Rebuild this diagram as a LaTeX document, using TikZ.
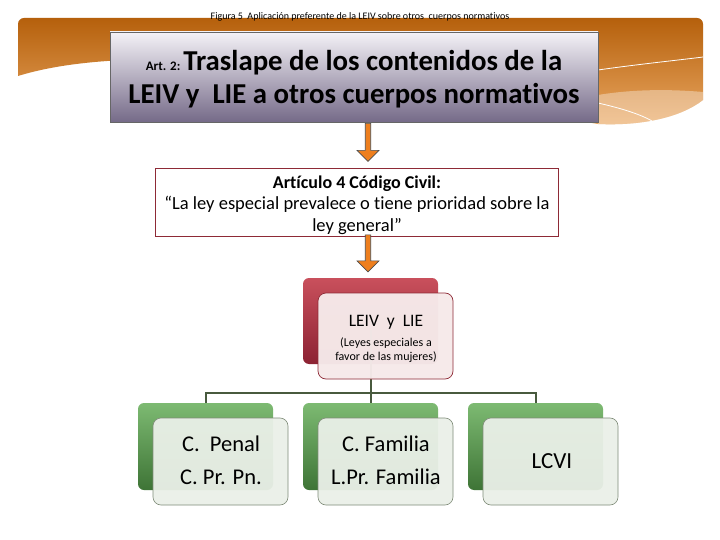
\documentclass[tikz,border=0pt]{standalone}
\usepackage{fontspec}
\setmainfont{Carlito}[Ligatures=NoCommon]
\usetikzlibrary{arrows.meta,shapes.arrows}
\definecolor{orA}{HTML}{B5600C}
\definecolor{orB}{HTML}{EBA862}
\definecolor{arrOr}{HTML}{EE7F1E}
\definecolor{redBack1}{HTML}{C9505C}
\definecolor{redBack2}{HTML}{8C2233}
\definecolor{redLine}{HTML}{8E2A36}
\definecolor{grnBack1}{HTML}{7DBA72}
\definecolor{grnBack2}{HTML}{3E7436}
\definecolor{grnLine}{HTML}{485A3E}
\definecolor{frontGrn}{HTML}{EAF0E8}
\definecolor{frontRed}{HTML}{F6EAEA}
\definecolor{boxTop}{HTML}{F4F2F7}
\definecolor{boxBot}{HTML}{756A88}
\tikzset{
  blockarrow/.style={single arrow, draw=black!70, line width=0.6pt, fill=arrOr,
    shape border rotate=270, minimum width=22pt, single arrow head extend=5.5pt,
    single arrow tip angle=90, inner sep=0pt, minimum height=38pt, text width=3pt},
  backgrn/.style={rounded corners=6pt, top color=grnBack1, bottom color=grnBack2, draw=none},
  frontgrn/.style={rounded corners=8pt, fill=frontGrn, fill opacity=0.95, draw=grnLine!70, line width=0.6pt},
  conn/.style={draw=grnLine, line width=2pt}
}
\begin{document}
\begin{tikzpicture}[x=1pt,y=-1pt]
\useasboundingbox (0,0) rectangle (720,540);
\fill[white] (0,0) rectangle (720,540);
% orange band
\shade[top color=orA, bottom color=orB]
  (18,76) -- (18,26) [rounded corners=6pt] -- (18,18) -- (703,18) [sharp corners] -- (703,100)
  .. controls (680,118) and (640,126) .. (598,124) -- (200,60)
  .. controls (120,57) and (60,63) .. (18,76) -- cycle;
\fill[white, opacity=0.35] (598,95) .. controls (640,88) and (680,90) .. (703,92) -- (703,100)
  .. controls (680,118) and (640,126) .. (598,124) -- cycle;
\draw[white, line width=0.8pt] (598,70) .. controls (640,64) and (680,60) .. (703,57);
\draw[white, line width=0.8pt] (598,103) .. controls (620,108) and (640,114) .. (652,121);
% caption
\node[font=\fontsize{10}{12}\selectfont, inner sep=0pt] (cap) at (360,17) {Figura 5\ \ Aplicación preferente de la LEIV sobre otros\ \ cuerpos normativos};
% main box
\shade[top color=boxTop, bottom color=boxBot, draw=black!60, line width=0.6pt]
  (110,32) rectangle (598,122);
\node[draw=none, minimum width=488pt, minimum height=90pt, inner sep=0pt] (main) at (354,77) {};
\node[inner sep=0pt, anchor=base] (t1) at (354,71) {\fontsize{13}{15}\selectfont\bfseries Art. 2:\ \fontsize{28.8}{32}\selectfont Traslape de los contenidos de la};
\node[inner sep=0pt, anchor=base] (t2) at (354,104) {\fontsize{28.8}{32}\selectfont\bfseries LEIV y\ \ LIE a otros cuerpos normativos};
% box 2
\node[draw=redLine, line width=0.8pt, fill=white, minimum width=403pt, minimum height=68pt, inner sep=0pt] (civ) at (356.5,202) {};
\node[anchor=base, inner sep=0pt] at (357,189) {\fontsize{18}{21}\selectfont\bfseries Artículo 4 Código Civil:};
\node[anchor=base, inner sep=0pt] at (357,210) {\fontsize{18.5}{21}\selectfont “La ley especial prevalece o tiene prioridad sobre la};
\node[anchor=base, inner sep=0pt] at (357,231) {\fontsize{18.5}{21}\selectfont ley general”};
% arrows
\node[blockarrow] (a1) at (368,141) {};
\node[blockarrow, minimum height=37pt] (a2) at (368,252) {};
% LEIV node
\shade[rounded corners=6pt, top color=redBack1, bottom color=redBack2] (303,278) rectangle (438,364);
\draw[conn] (370.5,330) -- (370.5,393);
\draw[rounded corners=8pt, fill=frontRed, fill opacity=0.97, draw=redLine, line width=0.7pt] (318,293) rectangle (453,379);
\node[draw=none, minimum width=135pt, minimum height=86pt] (leiv) at (385.5,336) {};
\node[anchor=base, inner sep=0pt] at (386,326) {\fontsize{17.5}{20}\selectfont LEIV\ \ y\ \ LIE};
\node[anchor=base, inner sep=0pt, font=\fontsize{12}{14}\selectfont] at (386,346) {(Leyes especiales a};
\node[anchor=base, inner sep=0pt, font=\fontsize{12}{14}\selectfont] at (386,360) {favor de las mujeres)};
% tree connectors
\draw[conn] (205.5,405) -- (205.5,393) -- (536,393) -- (536,405);
\draw[conn] (370.5,393) -- (370.5,405);
% green boxes
\foreach \cx/\nm in {205.5/g1, 370.5/g2, 535.5/g3} {
  \shade[backgrn] (\cx-67.5,403) rectangle (\cx+67.5,490);
  \draw[frontgrn] (\cx-52.5,418) rectangle (\cx+82.5,505);
  \node[minimum width=135pt, minimum height=87pt] (\nm) at (\cx+15,461.5) {};
}
\node[anchor=base, inner sep=0pt] at (221,451) {\fontsize{22.5}{26}\selectfont C.\ \ Penal};
\node[anchor=base, inner sep=0pt] at (221,484) {\fontsize{22.5}{26}\selectfont C. Pr. Pn.};
\node[anchor=base, inner sep=0pt] at (386,451) {\fontsize{22.5}{26}\selectfont C. Familia};
\node[anchor=base, inner sep=0pt] at (386,484) {\fontsize{22.5}{26}\selectfont L.Pr. Familia};
\node[anchor=base, inner sep=0pt] at (552,468) {\fontsize{23}{26}\selectfont LCVI};
\end{tikzpicture}
\end{document}
